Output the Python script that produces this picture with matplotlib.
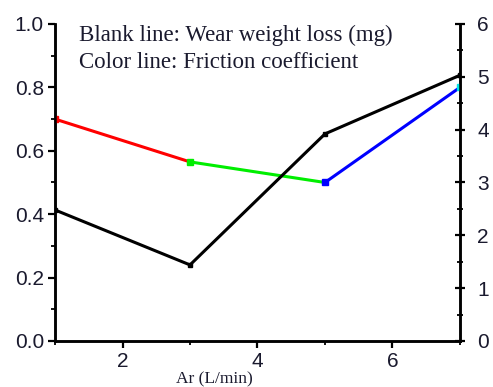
"""Wear weight loss and friction coefficient vs Ar flow."""

import matplotlib

matplotlib.use("Agg")
import matplotlib.pyplot as plt  # noqa: E402
from matplotlib.ticker import MultipleLocator  # noqa: E402

ar_flow = [1, 3, 5, 7]
friction = [0.70, 0.565, 0.50, 0.80]
wear_loss = [2.48, 1.44, 3.92, 5.03]
seg_colors = ["#ff0000", "#00ee00", "#0000ff", "#00e5e5"]

TICK_FONT = "Liberation Sans"
SERIF = "Liberation Serif"
TICK_COLOR = "#1a1a2e"

fig = plt.figure(figsize=(4.93, 3.87), dpi=100)
ax = fig.add_axes([0.1116, 0.1189, 0.8214, 0.8191])
ax2 = ax.twinx()

# colour line: one segment per interval, coloured by its start point
for i in range(len(ar_flow) - 1):
    ax.plot(ar_flow[i:i + 2], friction[i:i + 2], color=seg_colors[i], linewidth=2.2,
            solid_capstyle="butt", zorder=3)
for x, y, c in zip(ar_flow, friction, seg_colors):
    ax.plot([x], [y], marker="s", markersize=4.5, color=c, linestyle="none", zorder=4)

ax2.plot(ar_flow, wear_loss, color="black", linewidth=2.2, marker="s", markersize=3.5, zorder=3)

ax.set_xlim(1, 7)
ax.set_ylim(0, 1.0)
ax2.set_ylim(0, 6)

ax.xaxis.set_major_locator(MultipleLocator(2))
ax.xaxis.set_minor_locator(MultipleLocator(1))
ax.yaxis.set_major_locator(MultipleLocator(0.2))
ax.yaxis.set_minor_locator(MultipleLocator(0.1))
ax2.yaxis.set_major_locator(MultipleLocator(1))
ax2.yaxis.set_minor_locator(MultipleLocator(0.5))
ax.yaxis.set_major_formatter(plt.FuncFormatter(lambda v, p: f"{v:.1f}"))

for a in (ax, ax2):
    for spine in a.spines.values():
        spine.set_linewidth(1.8)
    a.spines["top"].set_visible(False)

ax.tick_params(axis="both", which="major", direction="out", length=5, width=1.6,
               labelsize=15, labelcolor=TICK_COLOR, pad=3)
ax.tick_params(axis="both", which="minor", direction="out", length=3, width=1.3)
ax2.tick_params(axis="y", which="major", direction="inout", length=7, width=1.6,
                labelsize=15, labelcolor=TICK_COLOR, pad=9)
ax2.tick_params(axis="y", which="minor", direction="inout", length=5, width=1.3)
for lab in ax.get_xticklabels() + ax.get_yticklabels() + ax2.get_yticklabels():
    lab.set_fontfamily(TICK_FONT)

fig.text(0.434, 0.0103, "Ar (L/min)", fontfamily=SERIF, fontsize=12.5,
         ha="center", va="baseline", color="#1a1a2e")

ax.text(0.059, 0.946, "Blank line: Wear weight loss (mg)", transform=ax.transAxes,
        fontfamily=SERIF, fontsize=16.5, color="#1a1a2e", va="baseline")
ax.text(0.059, 0.861, "Color line: Friction coefficient", transform=ax.transAxes,
        fontfamily=SERIF, fontsize=16.5, color="#1a1a2e", va="baseline")

fig.savefig("out.png", dpi=100)
